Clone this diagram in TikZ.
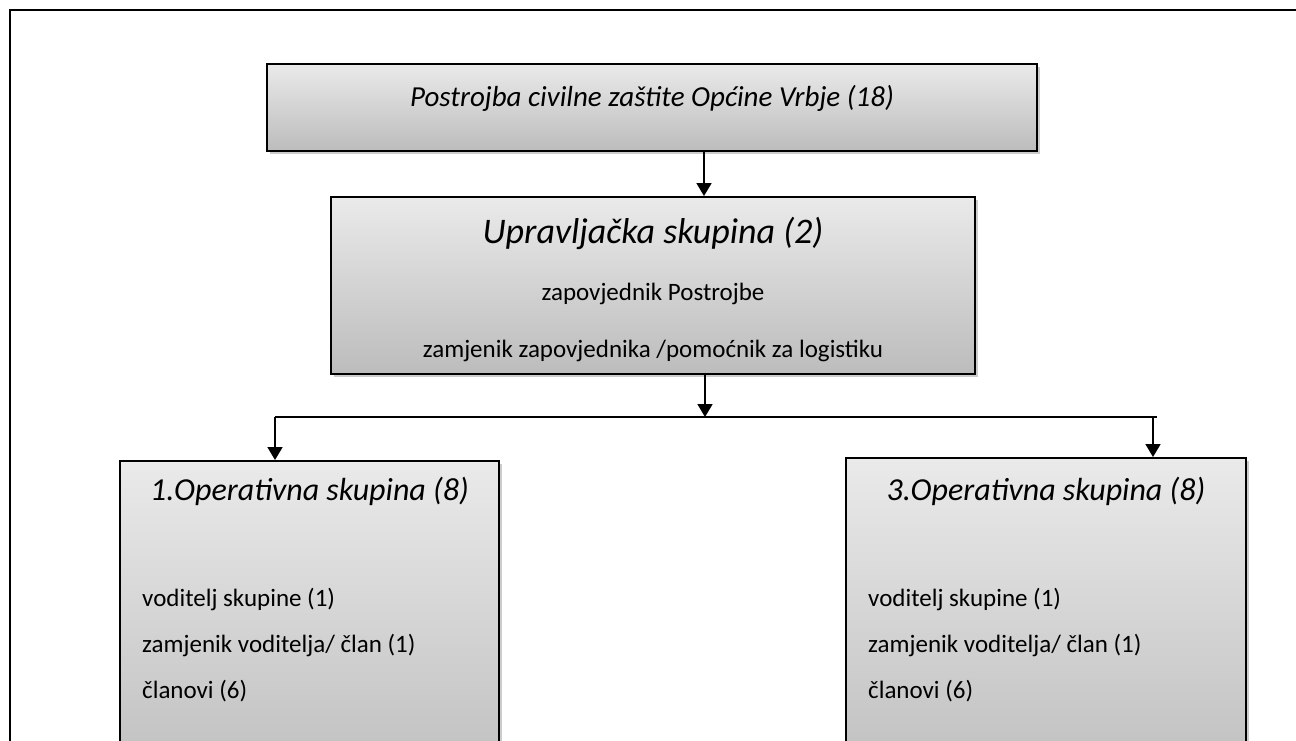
\documentclass[tikz,border=0pt]{standalone}
\usepackage{fontspec}
\setmainfont{Carlito}
\usetikzlibrary{arrows.meta,shadows}
\definecolor{boxtop}{RGB}{234,234,234}
\definecolor{boxbot}{RGB}{188,188,188}
\begin{document}
\begin{tikzpicture}[x=1pt,y=-1pt,
  box/.style={draw=black,line width=2pt,top color=boxtop,bottom color=boxbot,inner sep=0pt,
    drop shadow={shadow xshift=3pt,shadow yshift=-3pt,fill=black!40,opacity=0.5}},
  arr/.style={line width=1.8pt,-{Triangle[length=13pt,width=15pt]}},
  conn/.style={line width=1.8pt},
  frame/.style={line width=2.5pt},
  ttl/.style={inner sep=0pt,anchor=base,font=\fontsize{29}{35}\selectfont\itshape},
  head/.style={inner sep=0pt,anchor=base,font=\fontsize{36}{42}\selectfont\itshape},
  subhead/.style={inner sep=0pt,anchor=base,font=\fontsize{32}{38}\selectfont\itshape},
  body/.style={inner sep=0pt,anchor=base,font=\fontsize{25}{30}\selectfont},
  bodyl/.style={inner sep=0pt,anchor=base west,font=\fontsize{25}{30}\selectfont},
]
\useasboundingbox (0,0) rectangle (1296,740);
\clip (0,0) rectangle (1296,740);
\draw[frame] (10,760) -- (10,10) -- (1320,10);

\node[box,minimum width=770pt,minimum height=87pt] (top) at (652,107.5) {};
\node[ttl] (toptxt) at (652,106) {Postrojba civilne zaštite Općine Vrbje (18)};

\node[box,minimum width=644pt,minimum height=177pt] (mid) at (653,285.5) {};
\node[head] (midh) at (653,243) {Upravljačka skupina (2)};
\node[body] (mid1) at (653,300) {zapovjednik Postrojbe};
\node[body] (mid2) at (653,357) {zamjenik zapovjednika /pomoćnik za logistiku};

\node[box,minimum width=379pt,minimum height=339pt] (lbox) at (309.5,630.5) {};
\node[subhead] (lh) at (309.5,500) {1.Operativna skupina (8)};
\node[bodyl] (l1) at (142,606) {voditelj skupine (1)};
\node[bodyl] (l2) at (142,652) {zamjenik voditelja/ član (1)};
\node[bodyl] (l3) at (142,698) {članovi (6)};

\node[box,minimum width=400pt,minimum height=342pt] (rbox) at (1046,629) {};
\node[subhead] (rh) at (1046,500) {3.Operativna skupina (8)};
\node[bodyl] (r1) at (868,606) {voditelj skupine (1)};
\node[bodyl] (r2) at (868,652) {zamjenik voditelja/ član (1)};
\node[bodyl] (r3) at (868,698) {članovi (6)};

\coordinate (ha) at (704,0);
\coordinate (hl) at (275,417);
\coordinate (hr) at (1157,417);
\coordinate (hm) at (705,417);
\coordinate (hr2) at (1153,417);

\draw[arr] (top.south -| ha) -- (mid.north -| ha);
\draw[arr] (mid.south -| hm) -- (hm);
\draw[conn] (hl) -- (hr);
\draw[arr] (hl) -- (hl |- lbox.north);
\draw[arr] (hr2) -- (hr2 |- rbox.north);
\end{tikzpicture}
\end{document}
